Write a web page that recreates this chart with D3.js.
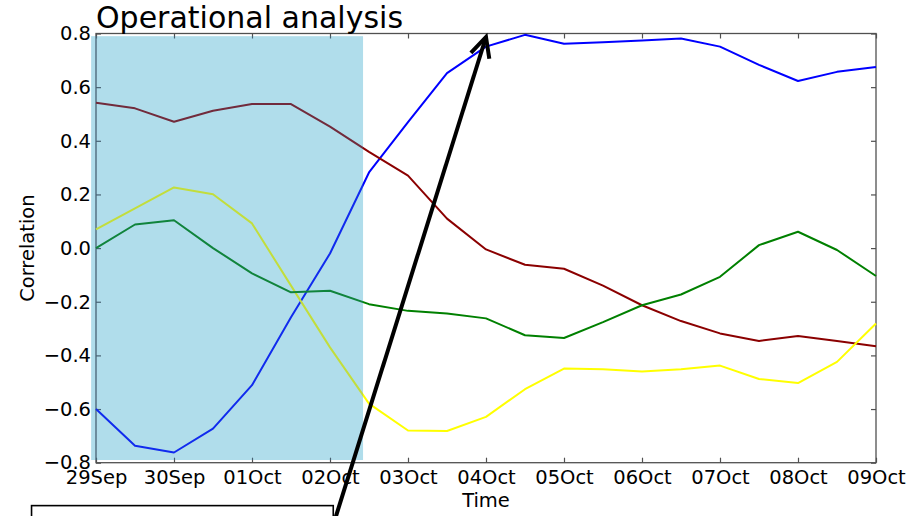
<!DOCTYPE html>
<html>
<head>
<meta charset="utf-8">
<script src="https://cdn.jsdelivr.net/npm/d3@7"></script>
<style>
  html, body { margin: 0; padding: 0; background: #fff; }
  svg { display: block; font-family: "DejaVu Sans", sans-serif; }
</style>
</head>
<body>
<svg id="chart" width="924" height="516"></svg>
<script>
// Sampling times, every 12 hours
const times = [
  "2015-09-29T00:00", "2015-09-29T12:00", "2015-09-30T00:00", "2015-09-30T12:00",
  "2015-10-01T00:00", "2015-10-01T12:00", "2015-10-02T00:00", "2015-10-02T12:00",
  "2015-10-03T00:00", "2015-10-03T12:00", "2015-10-04T00:00", "2015-10-04T12:00",
  "2015-10-05T00:00", "2015-10-05T12:00", "2015-10-06T00:00", "2015-10-06T12:00",
  "2015-10-07T00:00", "2015-10-07T12:00", "2015-10-08T00:00", "2015-10-08T12:00",
  "2015-10-09T00:00"
];

// Correlation series
const blueValues = [-0.600, -0.737, -0.762, -0.673, -0.511, -0.258, -0.020, 0.282, 0.470, 0.652, 0.751,
                    0.795, 0.762, 0.767, 0.774, 0.781, 0.751, 0.683, 0.623, 0.657, 0.675];
const redValues = [0.542, 0.521, 0.471, 0.512, 0.537, 0.537, 0.453, 0.359, 0.270, 0.110, -0.005,
                   -0.062, -0.077, -0.140, -0.213, -0.272, -0.318, -0.346, -0.328, -0.346, -0.366];
const yellowValues = [0.070, 0.148, 0.226, 0.201, 0.092, -0.140, -0.370, -0.580, -0.680, -0.682, -0.629,
                      -0.526, -0.449, -0.452, -0.460, -0.452, -0.438, -0.488, -0.503, -0.424, -0.281];
const greenValues = [0.000, 0.088, 0.104, 0.000, -0.094, -0.165, -0.159, -0.209, -0.234, -0.244, -0.262,
                     -0.325, -0.335, -0.276, -0.213, -0.173, -0.107, 0.011, 0.061, -0.007, -0.104];

const seriesColors = ["#0000ff", "#8b0000", "#ffff00", "#008000"];

// Axis ticks
const xTickDates = ["2015-09-29", "2015-09-30", "2015-10-01", "2015-10-02", "2015-10-03", "2015-10-04",
                    "2015-10-05", "2015-10-06", "2015-10-07", "2015-10-08", "2015-10-09"];
const yTickValues = [-0.8, -0.6, -0.4, -0.2, 0.0, 0.2, 0.4, 0.6, 0.8];

// Highlighted period (time range and correlation range)
const spanTimes = ["2015-09-28T22:30", "2015-10-02T10:10"];
const spanValues = [-0.79, 0.79];

// Annotation arrow (tail, head) and the text box corner
const arrowTimes = ["2015-10-01T23:30", "2015-10-04T00:00"];
const arrowValues = [-1.09, 0.787];
const boxTimes = ["2015-09-28T04:10", "2015-10-02T01:00"];
const boxValues = [-0.96, -1.2];

const parse = s => new Date(s + (s.length > 10 ? ":00Z" : "T00:00:00Z"));

const margin = { top: 33.5, right: 48, bottom: 53.3, left: 96 };
const W = 924, H = 516;
const svg = d3.select("#chart");

const x = d3.scaleUtc()
  .domain([parse(xTickDates[0]), parse(xTickDates[xTickDates.length - 1])])
  .range([margin.left, W - margin.right]);
const y = d3.scaleLinear()
  .domain([-0.8, 0.8])
  .range([H - margin.bottom, margin.top]);

const fontSize = 19.5;
const axisColor = "#505050";

// Lower layer of the highlighted span
const spanX0 = x(parse(spanTimes[0])), spanX1 = x(parse(spanTimes[1]));
const spanY0 = y(spanValues[1]), spanY1 = y(spanValues[0]);
svg.append("rect")
  .attr("x", spanX0).attr("y", spanY0)
  .attr("width", spanX1 - spanX0).attr("height", spanY1 - spanY0)
  .attr("fill", "rgb(230,255,251)");

// Axes with inward ticks on all four sides
const fmtDate = d3.utcFormat("%d%b");
const xTicks = xTickDates.map(parse);
const styleAxis = g => {
  g.select(".domain").remove();
  g.selectAll(".tick line").attr("stroke", axisColor).attr("stroke-width", 1.2);
  g.selectAll(".tick text").attr("fill", "#000").attr("font-size", fontSize)
    .attr("font-family", "DejaVu Sans, sans-serif");
};
svg.append("g").attr("transform", `translate(0,${H - margin.bottom})`)
  .call(d3.axisBottom(x).tickValues(xTicks).tickFormat(fmtDate).tickSizeInner(-5).tickSizeOuter(0).tickPadding(7))
  .call(styleAxis);
svg.append("g").attr("transform", `translate(0,${margin.top})`)
  .call(d3.axisTop(x).tickValues(xTicks).tickFormat("").tickSizeInner(-5).tickSizeOuter(0))
  .call(styleAxis);
svg.append("g").attr("transform", `translate(${margin.left},0)`)
  .call(d3.axisLeft(y).tickValues(yTickValues).tickFormat(d3.format(".1f")).tickSizeInner(-5).tickSizeOuter(0).tickPadding(5))
  .call(styleAxis);
svg.append("g").attr("transform", `translate(${W - margin.right},0)`)
  .call(d3.axisRight(y).tickValues(yTickValues).tickFormat("").tickSizeInner(-5).tickSizeOuter(0))
  .call(styleAxis);

// Frame
svg.append("rect")
  .attr("x", margin.left).attr("y", margin.top)
  .attr("width", W - margin.left - margin.right)
  .attr("height", H - margin.top - margin.bottom)
  .attr("fill", "none").attr("stroke", axisColor).attr("stroke-width", 1.3);

// Series lines
const dates = times.map(parse);
const line = d3.line().x((d, i) => x(dates[i])).y(d => y(d));
[blueValues, redValues, yellowValues, greenValues].forEach((vals, k) => {
  svg.append("path")
    .datum(vals)
    .attr("d", line)
    .attr("fill", "none")
    .attr("stroke", seriesColors[k])
    .attr("stroke-width", 2)
    .attr("stroke-linejoin", "round");
});

// Translucent upper layer of the highlighted span
svg.append("rect")
  .attr("x", spanX0).attr("y", spanY0)
  .attr("width", spanX1 - spanX0).attr("height", spanY1 - spanY0)
  .attr("fill", "rgb(53,143,200)").attr("fill-opacity", 0.3);

// Title and axis labels
svg.append("text")
  .attr("x", margin.left).attr("y", 28)
  .attr("font-size", 30).attr("fill", "#000")
  .text("Operational analysis");
svg.append("text")
  .attr("x", (margin.left + W - margin.right) / 2).attr("y", 507)
  .attr("text-anchor", "middle").attr("font-size", fontSize).attr("fill", "#000")
  .text("Time");
svg.append("text")
  .attr("transform", `translate(34,${(margin.top + H - margin.bottom) / 2}) rotate(-90)`)
  .attr("text-anchor", "middle").attr("font-size", fontSize).attr("fill", "#000")
  .text("Correlation");

// Annotation box
const bx0 = x(parse(boxTimes[0])), bx1 = x(parse(boxTimes[1]));
const by0 = y(boxValues[0]), by1 = y(boxValues[1]);
svg.append("rect")
  .attr("x", bx0).attr("y", by0)
  .attr("width", bx1 - bx0).attr("height", by1 - by0)
  .attr("fill", "#fff").attr("stroke", "#000").attr("stroke-width", 1.6);

// Annotation arrow
const ax0 = x(parse(arrowTimes[0])), ay0 = y(arrowValues[0]);
const ax1 = x(parse(arrowTimes[1])), ay1 = y(arrowValues[1]);
const ang = Math.atan2(ay0 - ay1, ax0 - ax1);
const headLen = 22, headAng = 26 * Math.PI / 180;
const arrow = svg.append("g").attr("stroke", "#000").attr("stroke-width", 4)
  .attr("fill", "none").attr("stroke-linecap", "butt");
arrow.append("line").attr("x1", ax0).attr("y1", ay0).attr("x2", ax1).attr("y2", ay1);
arrow.append("path")
  .attr("stroke-linejoin", "miter")
  .attr("d", d3.line()([
    [ax1 + headLen * Math.cos(ang + headAng), ay1 + headLen * Math.sin(ang + headAng)],
    [ax1, ay1],
    [ax1 + headLen * Math.cos(ang - headAng), ay1 + headLen * Math.sin(ang - headAng)]
  ]));
</script>
</body>
</html>
